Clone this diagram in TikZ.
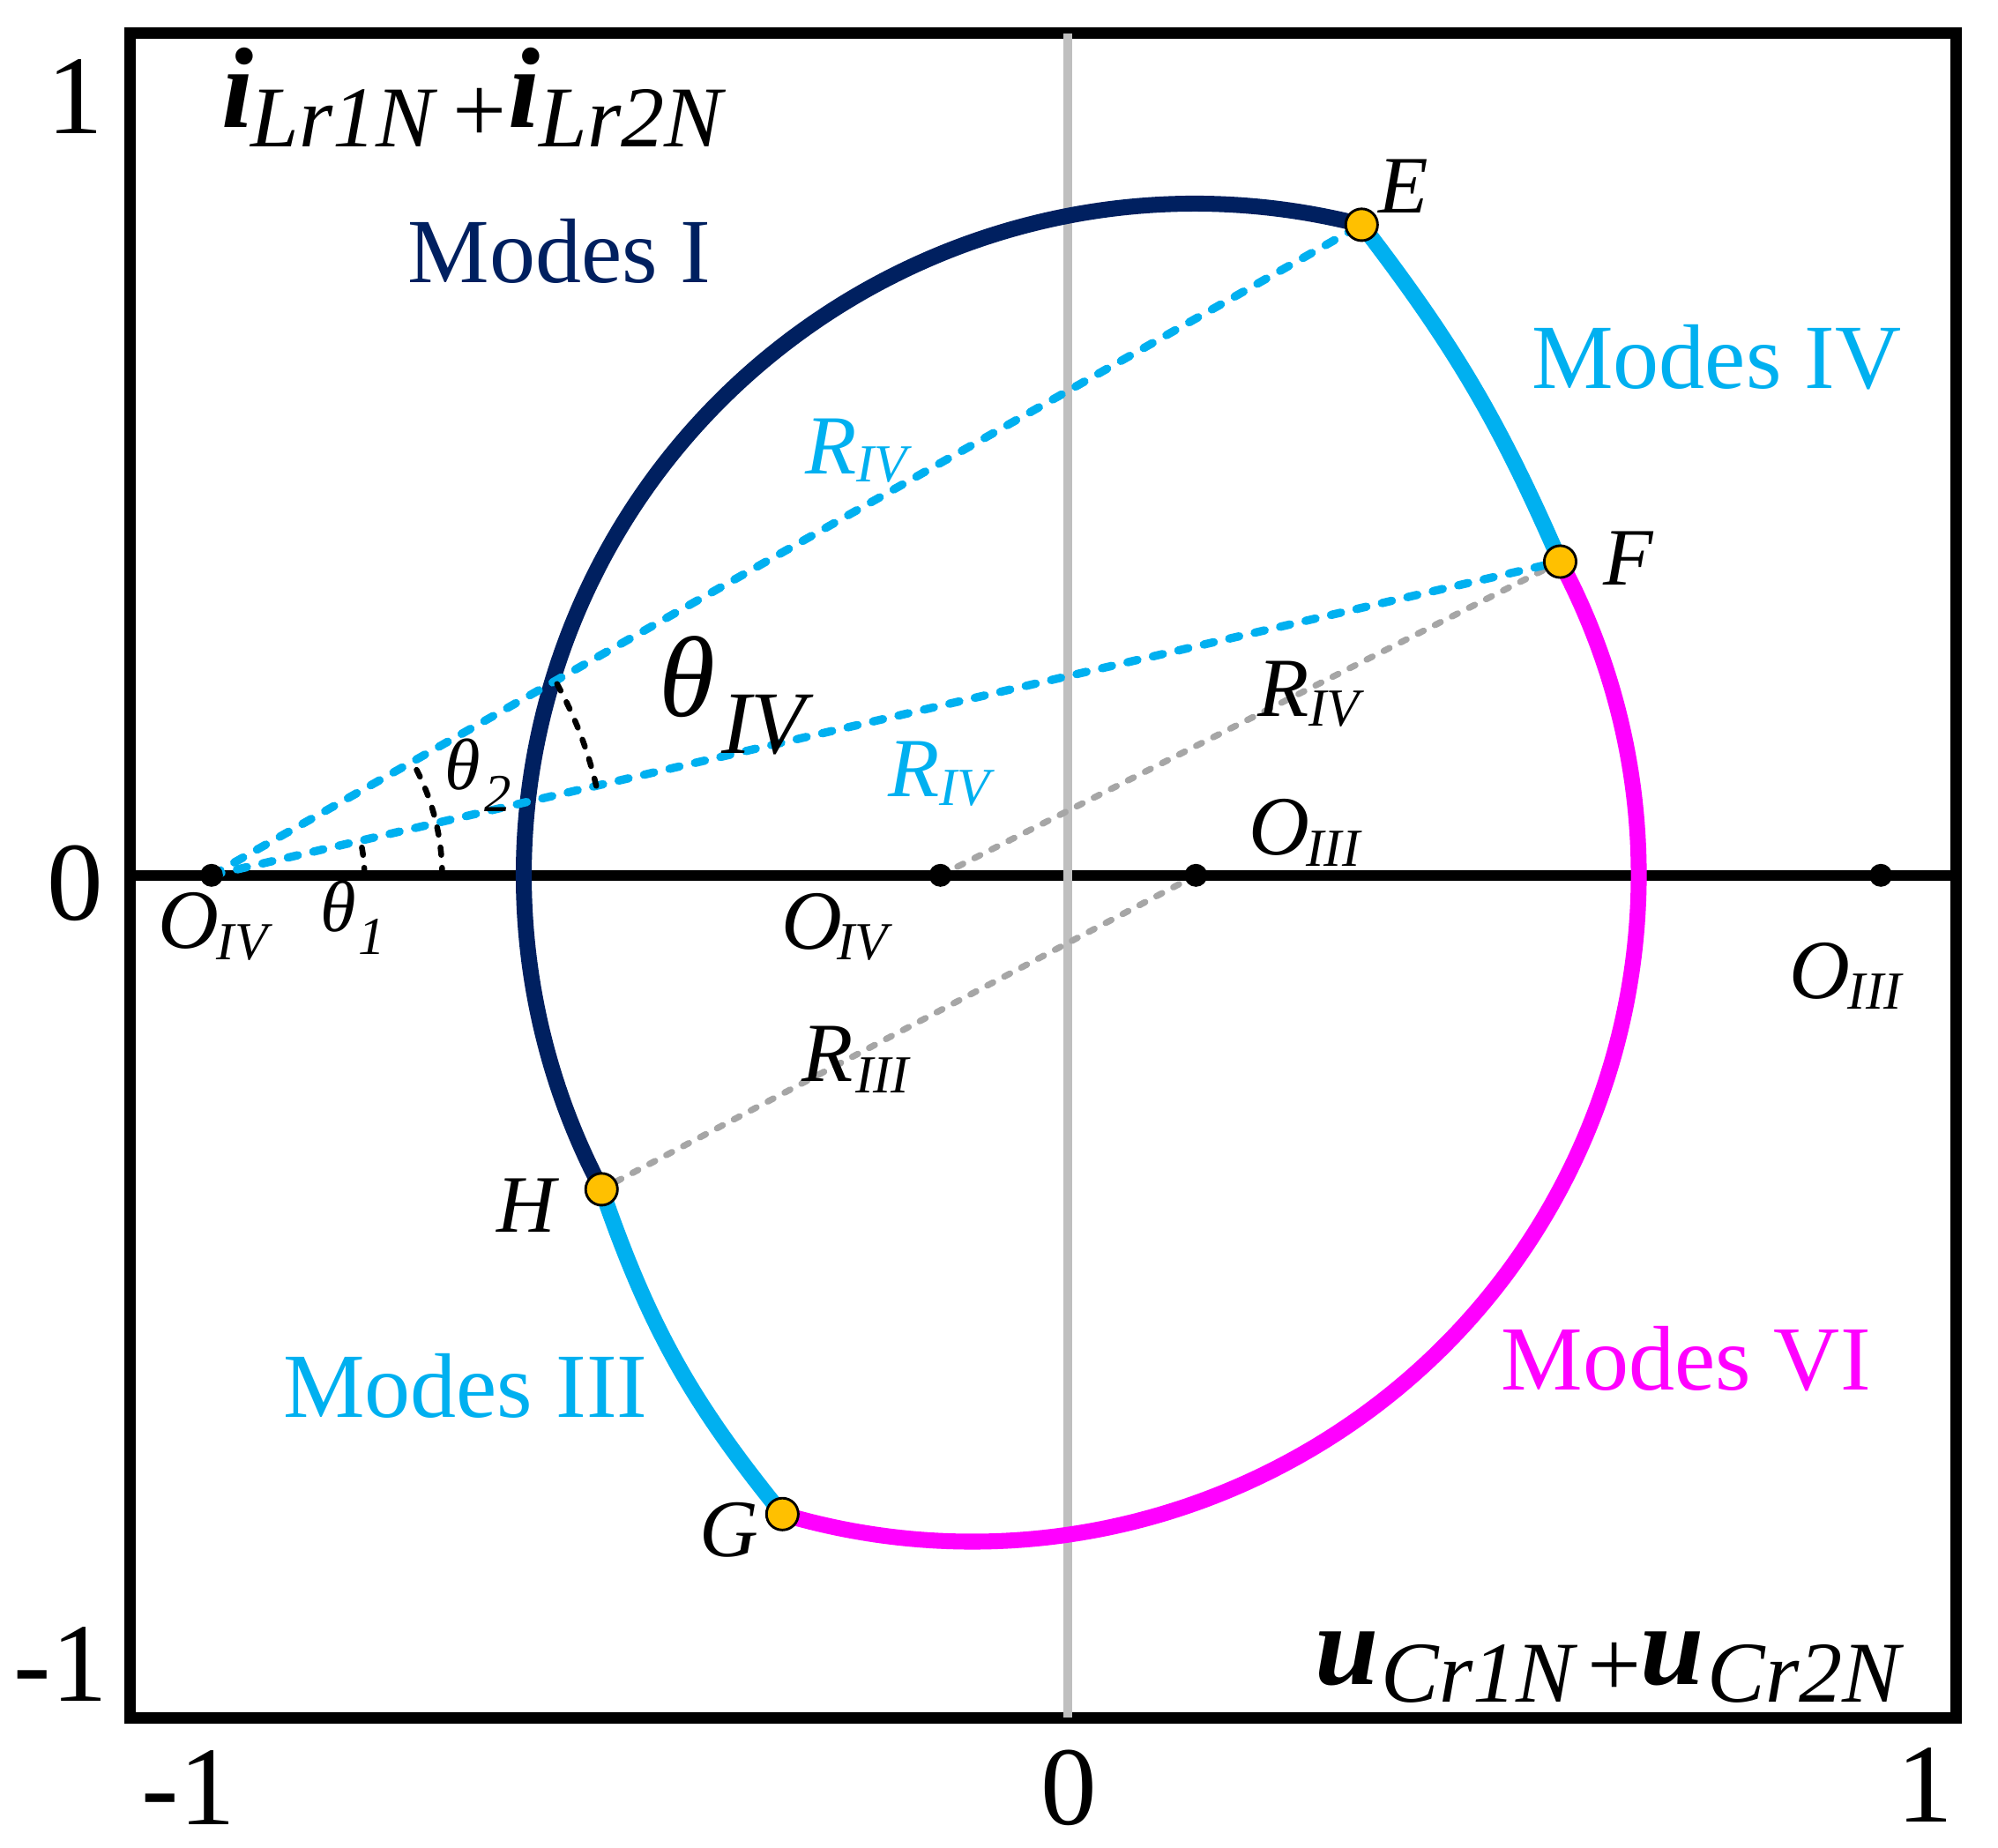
\documentclass[tikz,border=0pt]{standalone}
\usepackage{fontspec}
\setmainfont{Liberation Serif}
\definecolor{navyc}{HTML}{002060}
\definecolor{lblue}{HTML}{00B0F0}
\definecolor{magc}{HTML}{FF00FF}
\definecolor{orc}{HTML}{FFC000}
\definecolor{dgray}{HTML}{A6A6A6}
\definecolor{agray}{HTML}{BFBFBF}
\newcommand\fsz[1]{\fontsize{#1}{#1}\selectfont}
\begin{document}
\begin{tikzpicture}[x=1pt,y=1pt,
  lbl/.style={inner sep=0pt, anchor=base west},
  tick/.style={inner sep=0pt, anchor=base, font=\fsz{88}},
  modes/.style={inner sep=0pt, anchor=base west, font=\fsz{72}},
  pt/.style={inner sep=0pt, anchor=base west, font=\fsz{64}\itshape},
  big/.style={inner sep=0pt, anchor=base west, font=\fsz{66}\itshape},
  sub/.style={inner sep=0pt, anchor=base west, font=\fsz{42}\itshape},
  mainv/.style={inner sep=0pt, anchor=base west, font=\fsz{90}\bfseries\itshape},
  subv/.style={inner sep=0pt, anchor=base west, font=\fsz{68}\itshape},
  plus/.style={inner sep=0pt, anchor=base west, font=\fsz{75}},
  curve/.style={line width=12.5pt},
  bluedash/.style={draw=lblue, line width=6.5pt, line cap=round, dash pattern=on 8pt off 12.5pt},
  graydash/.style={draw=dgray, line width=5pt, line cap=round, dash pattern=on 5pt off 10pt},
  blackdash/.style={draw=black, line width=4.5pt, line cap=round, dash pattern=on 6pt off 10pt},
  dot/.style={circle, fill=black, inner sep=0pt, minimum size=18pt},
  mk/.style={circle, fill=orc, draw=black, line width=2pt, inner sep=0pt, minimum size=25pt}]
\useasboundingbox (0,0) rectangle (1568,1450);
% frame and axes
\draw[line width=9pt] (102,102) rectangle (1535,1424);
\draw[line width=8pt] (102,763) -- (1535,763);
\draw[agray, line width=7pt] (838,102) -- (838,1424);
% key points
\coordinate (C1) at (938,763);
\coordinate (C2) at (763,763);
\coordinate (E) at (1068.6,1273.6);
\coordinate (H) at (472.1,516.6);
\coordinate (F) at (1224.4,1009.2);
\coordinate (G) at (614.0,261.7);
\coordinate (cIVl) at (166,763);
\coordinate (cIVm) at (738,763);
\coordinate (cIIIm) at (938.5,763);
% curve
\draw[navyc, curve] (E) arc[start angle=75.65, end angle=207.87, radius=527];
\draw[magc, curve] (F) arc[start angle=28.08, end angle=-106.56, radius=523];
\draw[lblue, curve] (E) to[bend left=7] (F);
\draw[lblue, curve] (H) to[bend right=10] (G);
% dashed radii
\draw[graydash] (cIVm) -- (F);
\draw[graydash] (cIIIm) -- (H);
\draw[bluedash] (cIVl) -- (E);
\draw[bluedash] (cIVl) -- (F);
% centre dots
\node[dot] (oIVl) at (cIVl) {};
\node[dot] (oIVm) at (cIVm) {};
\node[dot] (oIIIm) at (cIIIm) {};
\node[dot] (oIIIr) at (1476,763) {};
% angle arcs
\draw[blackdash] (286,763) arc[start angle=0, end angle=13.09, radius=120];
\draw[blackdash] (347,763) arc[start angle=0, end angle=29.5, radius=181];
\draw[blackdash] (467.9,833.2) arc[start angle=13.09, end angle=29.5, radius=310];
% markers
\node[mk] (mE) at (E) {};
\node[mk] (mF) at (F) {};
\node[mk] (mG) at (G) {};
\node[mk] (mH) at (H) {};
% tick labels
\node[tick] (ty1) at (59,1345) {1};
\node[tick] (ty0) at (59,728) {0};
\node[tick] (tym) at (47.5,115) {-1};
\node[tick] (txm) at (148,18) {-1};
\node[tick] (tx0) at (839,18) {0};
\node[tick] (tx1) at (1511,20) {1};
% axis titles
\node[mainv] (iA) at (174,1350) {i};
\node[subv] (iAs) at (197,1335) {Lr1N};
\node[plus] (plA) at (355,1338) {+};
\node[mainv] (iB) at (399,1350) {i};
\node[subv] (iBs) at (423,1335) {Lr2N};
\node[mainv] (uA) at (1032,128) {u};
\node[subv] (uAs) at (1084,114) {Cr1N};
\node[plus] (plB) at (1246,118) {+};
\node[mainv] (uB) at (1287,128) {u};
\node[subv] (uBs) at (1340,114) {Cr2N};
% modes
\node[modes, text=navyc] (mI) at (320,1228) {Modes I};
\node[modes, text=lblue] (mIV) at (1202,1145) {Modes IV};
\node[modes, text=lblue] (mIII) at (222,338) {Modes III};
\node[modes, text=magc] (mVI) at (1178,359) {Modes VI};
% point labels
\node[pt] (lE) at (1082,1283) {E};
\node[pt] (lF) at (1258,991) {F};
\node[pt] (lG) at (549,228) {G};
\node[pt] (lH) at (390,483) {H};
% centre labels
\node[big] (lO1) at (124,706) {O};
\node[sub] (lO1s) at (170,697) {IV};
\node[big] (lO2) at (613,705) {O};
\node[sub] (lO2s) at (657,697) {IV};
\node[big] (lO3) at (980,779) {O};
\node[sub] (lO3s) at (1025,770) {III};
\node[big] (lO4) at (1404,666) {O};
\node[sub] (lO4s) at (1450,658) {III};
% radius labels
\node[big] (lR1) at (629,601) {R};
\node[sub] (lR1s) at (671,592) {III};
\node[big] (lR2) at (987,888) {R};
\node[sub] (lR2s) at (1027,880) {IV};
\node[big, text=lblue] (lR3) at (632,1078) {R};
\node[sub, text=lblue] (lR3s) at (672,1072) {IV};
\node[big, text=lblue] (lR4) at (697,825) {R};
\node[sub, text=lblue] (lR4s) at (737,818) {IV};
% angle labels
\node[lbl, font=\fsz{57}\itshape] (lt1) at (251,719) {θ};
\node[sub] (lt1s) at (281,701) {1};
\node[lbl, font=\fsz{57}\itshape] (lt2) at (349,830) {θ};
\node[sub] (lt2s) at (380,813) {2};
\node[lbl, font=\fsz{90}\itshape] (lt3) at (517,888) {θ};
\node[lbl, font=\fsz{70}\itshape] (lt3s) at (566,859) {IV};
\end{tikzpicture}
\end{document}
